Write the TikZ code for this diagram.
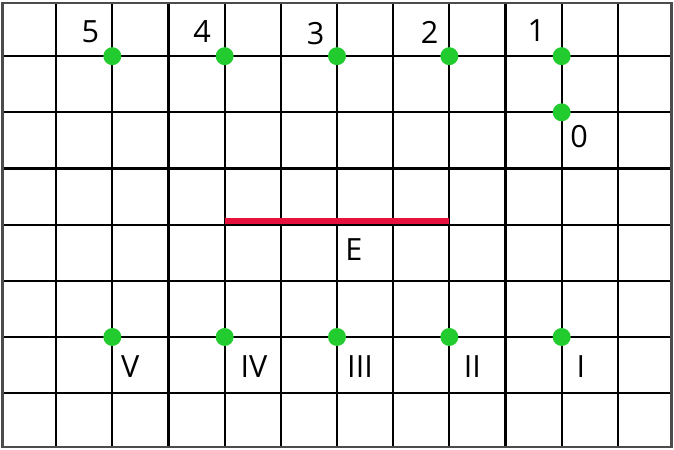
\documentclass[tikz,border=0pt]{standalone}
\usepackage{fontspec}
\setmainfont{Open Sans}
\definecolor{dotgreen}{HTML}{22CC2E}
\definecolor{segred}{HTML}{E8103C}
\begin{document}
\begin{tikzpicture}[x=1cm,y=1cm,
  gridline/.style={black,line width=1.1pt},
  frameline/.style={black!70,line width=1.3pt},
  gdot/.style={circle,fill=dotgreen,inner sep=0pt,minimum size=0.32cm},
  lbl/.style={inner sep=0pt,font=\fontsize{15.5}{18}\selectfont}]
\useasboundingbox (0,0) rectangle (12,8);
% grid
\foreach \x in {1,...,11} \draw[gridline] (\x,0.03) -- (\x,7.97);
\foreach \y in {1,...,7} \draw[gridline] (0.03,\y) -- (11.97,\y);
\draw[frameline] (0.04,0.04) rectangle (11.96,7.95);
% red segment
\coordinate (ea) at (4,4.06);
\coordinate (eb) at (8,4.06);
\draw[segred,line width=3.1pt] (ea) -- (eb);
% dots
\node[gdot] (d5) at (2,7) {};
\node[gdot] (d4) at (4,7) {};
\node[gdot] (d3) at (6,7) {};
\node[gdot] (d2) at (8,7) {};
\node[gdot] (d1) at (10,7) {};
\node[gdot] (d0) at (10,6) {};
\node[gdot] (rV) at (2,2) {};
\node[gdot] (rIV) at (4,2) {};
\node[gdot] (rIII) at (6,2) {};
\node[gdot] (rII) at (8,2) {};
\node[gdot] (rI) at (10,2) {};
% labels
\node[lbl] (l5) at (1.61,7.43) {5};
\node[lbl] (l4) at (3.6,7.43) {4};
\node[lbl] (l3) at (5.62,7.40) {3};
\node[lbl] (l2) at (7.65,7.43) {2};
\node[lbl] (l1) at (9.55,7.46) {1};
\node[lbl] (l0) at (10.31,5.56) {0};
\node[lbl] (lE) at (6.3,3.56) {E};
\node[lbl] (lV) at (2.32,1.47) {V};
\node[lbl] (lIV) at (4.52,1.47) {IV};
\node[lbl] (lIII) at (6.41,1.47) {III};
\node[lbl] (lII) at (8.41,1.47) {II};
\node[lbl] (lI) at (10.34,1.47) {I};
\end{tikzpicture}
\end{document}
